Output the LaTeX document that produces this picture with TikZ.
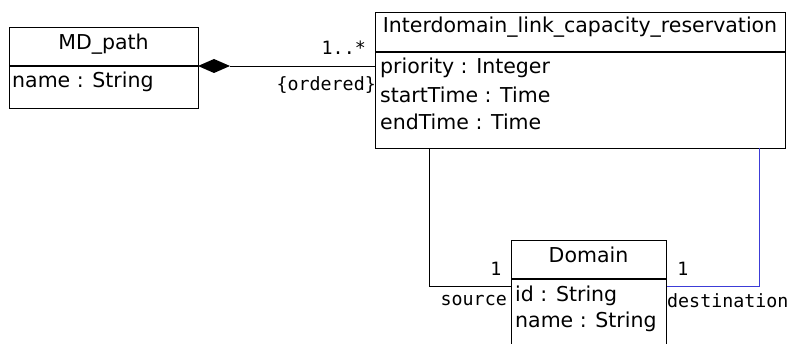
\documentclass[tikz,border=0pt]{standalone}
\usepackage{fontspec}
\setmainfont{DejaVu Sans}
\newfontfamily\labelfont{DejaVu Sans Mono}
\begin{document}
\begin{tikzpicture}[x=1pt,y=-1pt,
  classbox/.style={draw,line width=1.3pt,inner sep=0pt,anchor=north west},
  cname/.style={font=\fontsize{20.5}{22}\selectfont,inner sep=0pt},
  attr/.style={font=\fontsize{20.5}{22}\selectfont,inner sep=0pt,anchor=west},
  role/.style={font=\labelfont\fontsize{18.3}{20}\selectfont,inner sep=0pt},
  assoc/.style={line width=0.9pt}]
\useasboundingbox (0,0) rectangle (790,344);

% MD_path class
\node[classbox,minimum width=189pt,minimum height=81pt] (md) at (9,27) {};
\draw[line width=1.3pt] (9,66) -- (198,66);
\node[cname] (mdname) at (103.5,44) {MD\_path};
\node[attr] (mdattr) at (12,82) {name : String};

% Interdomain_link_capacity_reservation class
\node[classbox,minimum width=410pt,minimum height=136pt] (res) at (375,12) {};
\draw[line width=1.3pt] (375,52) -- (785,52);
\node[cname] (resname) at (580,27) {Interdomain\_link\_capacity\_reservation};
\node[attr] (resa1) at (380,68) {priority : Integer};
\node[attr] (resa2) at (380,95) {startTime : Time};
\node[attr] (resa3) at (380,122) {endTime : Time};

% Domain class
\node[classbox,minimum width=155pt,minimum height=110pt] (dom) at (511,240) {};
\draw[line width=1.3pt] (511,279) -- (666,279);
\node[cname] (domname) at (588.5,255) {Domain};
\node[attr] (doma1) at (515,296) {id : String};
\node[attr] (doma2) at (515,322) {name : String};

% composition MD_path <>-- reservation
\coordinate (dtip) at (198,66);
\coordinate (dend) at (230,66);
\fill (dtip) -- (214,59) -- (dend) -- (214,73) -- cycle;
\draw[assoc] (dend) -- (dend -| res.west);
\node[role,anchor=east] (mult) at (366,48) {1..*};
\node[role,anchor=east] (ord) at (376,85) {\{ordered\}};

% source association
\coordinate (s1) at (429,148);
\coordinate (s2) at (429,286);
\draw[assoc] (s1) -- (s2) -- (s2 -| dom.west);
\node[role] (srcm) at (496,269) {1};
\node[role,anchor=east] (src) at (507,301) {source};

% destination association
\coordinate (t1) at (759,148);
\coordinate (t2) at (759,286);
\draw[assoc,color={rgb,255:red,60;green,60;blue,215}] (t1) -- (t2) -- (t2 -| dom.east);
\node[role] (dstm) at (683,269) {1};
\node[role,anchor=west] (dst) at (667,301) {destination};
\end{tikzpicture}
\end{document}
